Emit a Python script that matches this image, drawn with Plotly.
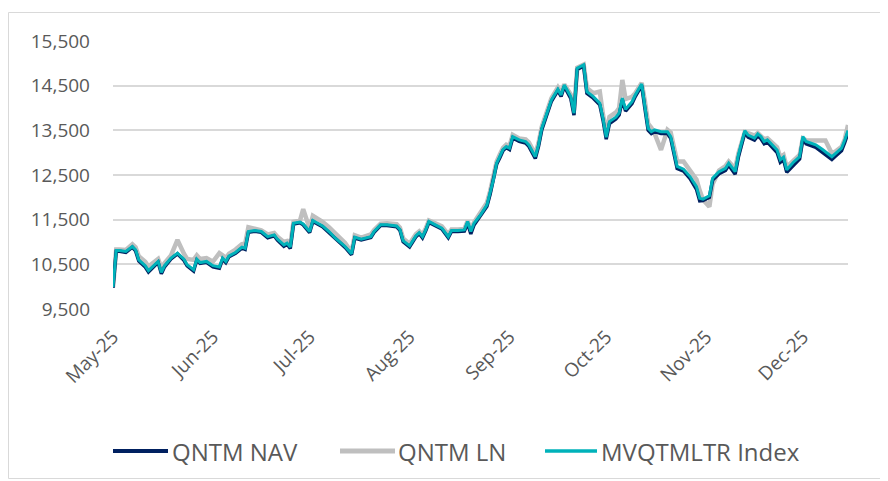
import plotly.graph_objects as go

# ---------------- data ----------------
dates = [
    # May
    "2025-05-01","2025-05-02","2025-05-03","2025-05-05","2025-05-07","2025-05-08","2025-05-09",
    "2025-05-11","2025-05-12","2025-05-14","2025-05-15","2025-05-16","2025-05-17","2025-05-19",
    "2025-05-21","2025-05-23","2025-05-24","2025-05-26","2025-05-27","2025-05-28","2025-05-30",
    # Jun
    "2025-06-01","2025-06-03","2025-06-04","2025-06-05","2025-06-06","2025-06-08","2025-06-10",
    "2025-06-11","2025-06-12","2025-06-14","2025-06-16","2025-06-18","2025-06-20","2025-06-21",
    "2025-06-23","2025-06-24","2025-06-25","2025-06-26","2025-06-28","2025-06-29",
    # Jul
    "2025-07-01","2025-07-02","2025-07-05","2025-07-07","2025-07-09","2025-07-12","2025-07-14",
    "2025-07-15","2025-07-17","2025-07-20","2025-07-21","2025-07-23","2025-07-25","2025-07-28",
    "2025-07-29","2025-07-30",
    # Aug
    "2025-08-01","2025-08-03","2025-08-04","2025-08-05","2025-08-06","2025-08-07","2025-08-09",
    "2025-08-11","2025-08-13","2025-08-14","2025-08-16","2025-08-18","2025-08-19","2025-08-20",
    "2025-08-21","2025-08-23","2025-08-25","2025-08-26","2025-08-27","2025-08-28","2025-08-29",
    "2025-08-30","2025-08-31",
    # Sep
    "2025-09-01","2025-09-02","2025-09-04","2025-09-06","2025-09-07","2025-09-09","2025-09-10",
    "2025-09-11","2025-09-12","2025-09-13","2025-09-14","2025-09-16","2025-09-17","2025-09-18",
    "2025-09-20","2025-09-21","2025-09-22","2025-09-24","2025-09-25","2025-09-27","2025-09-29",
    "2025-09-30",
    # Oct
    "2025-10-01","2025-10-02","2025-10-04","2025-10-05","2025-10-06","2025-10-07","2025-10-09",
    "2025-10-10","2025-10-12","2025-10-13","2025-10-14","2025-10-15","2025-10-16","2025-10-18",
    "2025-10-20","2025-10-21","2025-10-23","2025-10-25","2025-10-27","2025-10-29","2025-10-30",
    "2025-10-31",
    # Nov
    "2025-11-02","2025-11-03","2025-11-05","2025-11-07","2025-11-08","2025-11-10","2025-11-11",
    "2025-11-13","2025-11-14","2025-11-16","2025-11-17","2025-11-18","2025-11-19","2025-11-20",
    "2025-11-23","2025-11-24","2025-11-25","2025-11-26","2025-11-28","2025-11-30",
    # Dec
    "2025-12-01","2025-12-02","2025-12-05","2025-12-07","2025-12-08","2025-12-10","2025-12-11",
    "2025-12-13","2025-12-14","2025-12-15",
]

mvqtmltr_index = [
    9990,10810,10810,10790,10900,10825,10600,10470,10360,10490,10565,10320,10470,10640,10750,10615,10490,10380,10615,10540,10565,
    10470,10440,10640,10565,10690,10765,10885,10860,11235,11255,11235,11120,11160,11065,10935,10975,10885,11420,11445,11405,
    11235,11480,11360,11235,11085,10900,10735,11110,11065,11120,11235,11385,11385,11360,11280,11030,
    10915,11140,11210,11120,11270,11460,11385,11310,11120,11255,11255,11270,11460,11235,11420,11605,11830,12095,12390,12765,12910,13075,13135,
    13100,13360,13285,13250,13175,12910,13175,13545,13770,13995,14180,14420,14290,14515,14255,13885,14890,14965,14365,14255,14105,13770,
    13345,13695,13795,13885,14220,13970,14140,14290,14540,14030,13545,13470,13510,13470,13470,13360,12690,12630,12465,12240,11980,11960,
    12035,12430,12575,12650,12765,12575,12950,13495,13395,13325,13420,13360,13250,13285,13060,12840,12900,12615,12780,12910,
    13360,13250,13175,13075,13025,12910,12975,13100,13285,13495,
]

qntm_nav = [
    9975,10795,10795,10770,10885,10800,10575,10440,10330,10470,10545,10290,10445,10620,10735,10590,10465,10350,10595,10520,10545,
    10445,10415,10615,10540,10670,10745,10865,10835,11215,11240,11215,11095,11140,11040,10905,10950,10855,11400,11430,11385,
    11210,11460,11345,11215,11065,10880,10715,11090,11045,11100,11215,11370,11370,11340,11260,11005,
    10890,11120,11190,11095,11250,11440,11365,11290,11095,11235,11235,11245,11420,11180,11380,11580,11800,12070,12365,12740,12885,13050,13110,
    13070,13330,13255,13215,13140,12870,13140,13510,13740,13965,14150,14390,14260,14485,14215,13840,14860,14940,14330,14220,14070,13730,
    13300,13650,13755,13845,14180,13930,14100,14255,14505,13990,13505,13430,13470,13430,13430,13320,12645,12585,12420,12180,11920,11930,
    12000,12385,12530,12605,12720,12520,12900,13455,13350,13280,13375,13310,13200,13235,13005,12785,12845,12560,12725,12860,
    13310,13200,13120,13020,12960,12850,12915,13045,13230,13450,
]

qntm_ln = [
    9990,10830,10830,10820,10950,10880,10680,10560,10450,10560,10620,10420,10530,10700,11045,10740,10620,10600,10700,10620,10640,
    10560,10750,10700,10640,10740,10830,10950,10960,11330,11300,11260,11170,11200,11120,11000,11020,10950,11450,11480,11735,
    11300,11585,11450,11330,11180,10980,10770,11150,11100,11170,11270,11410,11420,11400,11320,11080,
    10960,11180,11240,11160,11300,11480,11420,11350,11170,11280,11280,11290,11470,11280,11440,11640,11880,12140,12430,12800,12960,13110,13180,
    13150,13400,13320,13300,13230,12970,13220,13580,13800,14030,14220,14460,14330,14530,14300,13950,14900,14970,14450,14330,14366,13850,
    13450,13800,13900,14000,14628,14200,14250,14330,14560,14150,13650,13560,13430,13062,13509,13450,12800,12800,12600,12400,12150,11950,
    11790,12300,12600,12700,12800,12640,12980,13460,13440,13380,13440,13380,13300,13320,13120,12900,12950,12680,12820,12950,
    13320,13280,13270,13270,13270,12980,13020,13130,13300,13621,
]

month_ticks = ["2025-05-01","2025-06-01","2025-07-01","2025-08-01",
               "2025-09-01","2025-10-01","2025-11-01","2025-12-01"]
month_labels = ["May-25","Jun-25","Jul-25","Aug-25","Sep-25","Oct-25","Nov-25","Dec-25"]
y_ticks = [9500, 10500, 11500, 12500, 13500, 14500, 15500]
y_labels = ["9,500","10,500","11,500","12,500","13,500","14,500","15,500"]

series_names = ["QNTM NAV", "QNTM LN", "MVQTMLTR Index"]
series_colors = ["#002060", "#BFBFBF", "#00B2BA"]

# ---------------- layout geometry (pixels, page body has an 8px margin) ----------------
OFF = 8
W, H = 888 - OFF, 481 - OFF
PL, PR, PT, PB = 113 - OFF, 848 - OFF, 41 - OFF, 309 - OFF   # plot area edges
FONT = "Open Sans"
TXT = "#595959"

def px_x(px):
    return (px - OFF - PL) / (PR - PL)

def px_y(py):
    return (PB - (py - OFF)) / (PB - PT)

fig = go.Figure()
fig.add_trace(go.Scatter(x=dates, y=qntm_ln, mode="lines", name=series_names[1],
                         line=dict(color=series_colors[1], width=4.5), showlegend=False))
fig.add_trace(go.Scatter(x=dates, y=qntm_nav, mode="lines", name=series_names[0],
                         line=dict(color=series_colors[0], width=3.5), showlegend=False))
fig.add_trace(go.Scatter(x=dates, y=mvqtmltr_index, mode="lines", name=series_names[2],
                         line=dict(color=series_colors[2], width=3), showlegend=False))

shapes = [
    dict(type="rect", xref="paper", yref="paper",
         x0=px_x(8.5), x1=px_x(886.5), y0=px_y(478.5), y1=px_y(12.5),
         line=dict(color="#D9D9D9", width=1), fillcolor="rgba(0,0,0,0)", layer="below"),
]
annotations = []
legend_pos = [(113, 168, 170), (340, 395, 396), (545, 597, 599)]
legend_w = [4, 5, 3.5]
LY = 451
for (x0, x1, tx), name, col, lw in zip(legend_pos, series_names, series_colors, legend_w):
    shapes.append(dict(type="line", xref="paper", yref="paper",
                       x0=px_x(x0), x1=px_x(x1), y0=px_y(LY), y1=px_y(LY),
                       line=dict(color=col, width=lw)))
    annotations.append(dict(xref="paper", yref="paper", x=px_x(tx), y=px_y(LY),
                            xanchor="left", yanchor="middle", showarrow=False,
                            text=name, font=dict(family=FONT, size=24, color=TXT)))

fig.update_layout(
    width=W, height=H,
    margin=dict(l=PL, r=W - PR, t=PT, b=H - PB),
    paper_bgcolor="white", plot_bgcolor="white",
    showlegend=False,
    shapes=shapes, annotations=annotations,
    font=dict(family=FONT, size=18, color=TXT),
)
fig.update_xaxes(
    type="date", range=["2025-05-01", "2025-12-15"],
    tickvals=month_ticks, ticktext=month_labels, tickangle=-45,
    showgrid=False, zeroline=False, showline=False, ticks="",
    ticklabelstandoff=12,
    tickfont=dict(family=FONT, size=19, color=TXT),
)
fig.update_yaxes(
    range=[9500, 15500], tickvals=y_ticks, ticktext=y_labels,
    showgrid=True, gridcolor="#D9D9D9", gridwidth=1.5,
    zeroline=False, showline=False, ticks="",
    ticklabelstandoff=22,
    tickfont=dict(family=FONT, size=19, color=TXT),
)

fig.write_html("out.html")
